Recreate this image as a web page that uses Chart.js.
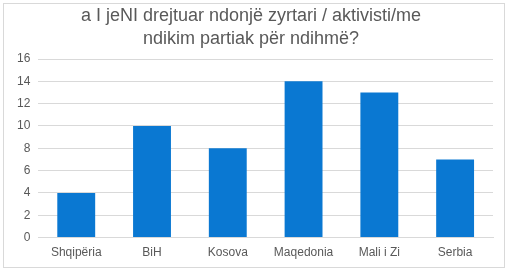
<!DOCTYPE html>
<html>
<head>
    <meta charset="utf-8">
    <title>Chart</title>
    <style>
        body {
            margin: 0;
            background: #ffffff;
        }
        .frame {
            position: absolute;
            left: 3px;
            top: 3px;
            width: 500px;
            height: 263px;
            border: 1px solid #d9d9d9;
            background: #ffffff;
        }
    </style>
</head>
<body>
    <div class="frame">
        <canvas id="chart" width="500" height="263"></canvas>
    </div>
    <script src="https://cdn.jsdelivr.net/npm/chart.js"></script>
    <script>
        const categories = ['Shqipëria', 'BiH', 'Kosova', 'Maqedonia', 'Mali i Zi', 'Serbia'];
        const values = [4, 10, 8, 14, 13, 7];
        const titleLines = ['a I jeNI drejtuar ndonjë zyrtari / aktivisti/me', 'ndikim partiak për ndihmë?'];

        new Chart(document.getElementById('chart').getContext('2d'), {
            type: 'bar',
            data: {
                labels: categories,
                datasets: [{
                    data: values,
                    backgroundColor: '#0a78d2',
                    categoryPercentage: 0.5,
                    barPercentage: 1
                }]
            },
            options: {
                responsive: false,
                animation: false,
                layout: { padding: { left: 5, right: 11, top: 0, bottom: 7 } },
                plugins: {
                    legend: { display: false },
                    tooltip: { enabled: false },
                    title: {
                        display: true,
                        text: titleLines,
                        color: '#595959',
                        font: { family: 'Liberation Sans, Arial, sans-serif', size: 18, weight: 'normal', lineHeight: 1.25 },
                        padding: { top: 1, bottom: 9 }
                    }
                },
                scales: {
                    x: {
                        grid: { display: false },
                        border: { color: '#d9d9d9' },
                        ticks: { color: '#595959', font: { family: 'Liberation Sans, Arial, sans-serif', size: 12 }, padding: 0 }
                    },
                    y: {
                        min: 0,
                        max: 16,
                        ticks: { stepSize: 2, color: '#595959', font: { family: 'Liberation Sans, Arial, sans-serif', size: 12 }, padding: 8 },
                        grid: { color: '#d9d9d9', drawTicks: false },
                        border: { display: false }
                    }
                }
            }
        });
    </script>
</body>
</html>
